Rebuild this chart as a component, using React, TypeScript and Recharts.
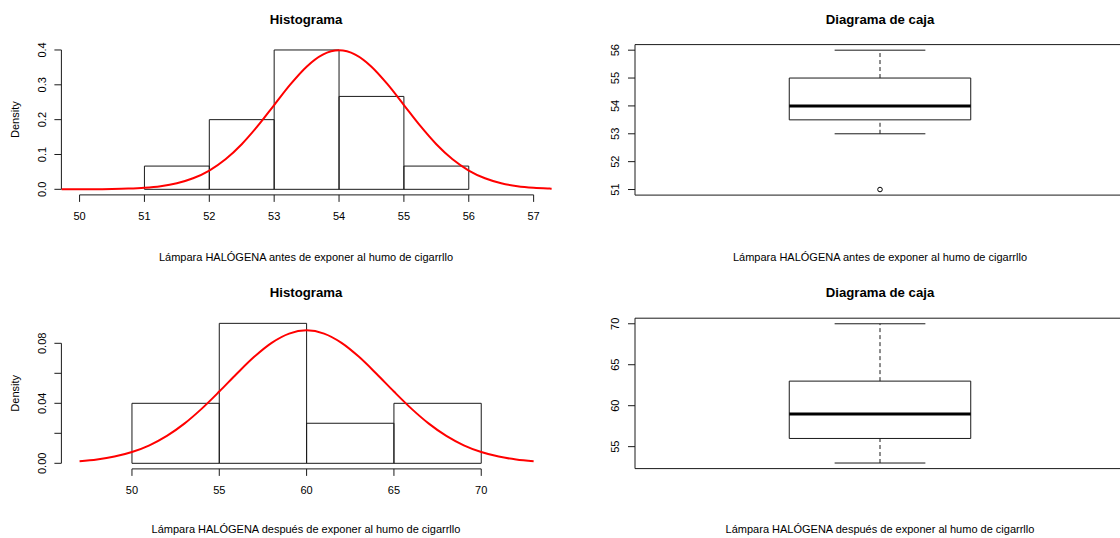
import React from "react";
import {
  ComposedChart,
  XAxis,
  YAxis,
  Line,
  ReferenceArea,
  ReferenceLine,
  Scatter,
} from "recharts";

const FONT = "'Liberation Sans', Arial, Helvetica, sans-serif";

// ---------- Texts ----------
const titleHist = "Histograma";
const titleBox = "Diagrama de caja";
const labelBefore = "Lámpara HALÓGENA antes de exponer al humo de cigarrllo";
const labelAfter = "Lámpara HALÓGENA después de exponer al humo de cigarrllo";
const densityLabel = "Density";

// ---------- Histogram: before ----------
const breaksBefore = [51, 52, 53, 54, 55, 56];
const densityBefore = [0.0667, 0.2, 0.4, 0.2667, 0.0667];
const curveXBefore = [
  49.72, 49.75, 50, 50.25, 50.5, 50.75, 51, 51.25, 51.5, 51.75, 52, 52.25, 52.5,
  52.75, 53, 53.25, 53.5, 53.75, 54, 54.25, 54.5, 54.75, 55, 55.25, 55.5, 55.75,
  56, 56.25, 56.5, 56.75, 57, 57.25, 57.28,
];
const curveYBefore = [
  0.00004, 0.00005, 0.00013, 0.00035, 0.00087, 0.00203, 0.00443, 0.00909,
  0.01753, 0.03174, 0.05399, 0.08628, 0.12952, 0.18265, 0.24197, 0.30114,
  0.35207, 0.38667, 0.39894, 0.38667, 0.35207, 0.30114, 0.24197, 0.18265,
  0.12952, 0.08628, 0.05399, 0.03174, 0.01753, 0.00909, 0.00443, 0.00203,
  0.00180,
];
const xTicksBefore = [50, 51, 52, 53, 54, 55, 56, 57];
const yTicksBefore = [0, 0.1, 0.2, 0.3, 0.4];
const yLabelsBefore = ["0.0", "0.1", "0.2", "0.3", "0.4"];

// ---------- Histogram: after ----------
const breaksAfter = [50, 55, 60, 65, 70];
const densityAfter = [0.04, 0.0933, 0.0267, 0.04];
const curveXAfter = [
  47, 48, 49, 50, 51, 52, 53, 54, 55, 56, 57, 58, 59, 60, 61, 62, 63, 64, 65, 66,
  67, 68, 69, 70, 71, 72, 73,
];
const curveYAfter = [
  0.00137, 0.00253, 0.00447, 0.00751, 0.012, 0.01826, 0.02644, 0.03645, 0.04782,
  0.05972, 0.07099, 0.08032, 0.08649, 0.08865, 0.08649, 0.08032, 0.07099,
  0.05972, 0.04782, 0.03645, 0.02644, 0.01826, 0.012, 0.00751, 0.00447, 0.00253,
  0.00137,
];
const xTicksAfter = [50, 55, 60, 65, 70];
const yTicksAfter = [0, 0.02, 0.04, 0.06, 0.08];
const yLabelsAfter = ["0.00", "", "0.04", "", "0.08"];

// ---------- Box plots: [min, q1, median, q3, max] ----------
const boxStatsBefore = [53, 53.5, 54, 55, 56];
const outliersBefore = [51];
const boxTicksBefore = [51, 52, 53, 54, 55, 56];
const boxStatsAfter = [53, 56, 59, 63, 70];
const outliersAfter: number[] = [];
const boxTicksAfter = [55, 60, 65, 70];

const INK = "#1a1a1a";

const XTick = (props: any) => {
  const { x, y, payload } = props;
  return (
    <text
      x={x}
      y={y + 18}
      textAnchor="middle"
      fontFamily={FONT}
      fontSize={11}
      fill="#000"
    >
      {String(payload.value)}
    </text>
  );
};

const makeYTick = (ticks: number[], labels: string[]) => (props: any) => {
  const { x, y, payload } = props;
  const i = ticks.findIndex((t) => Math.abs(t - payload.value) < 1e-9);
  const s = i >= 0 ? labels[i] : String(payload.value);
  if (!s) return <g />;
  return (
    <text
      transform={`translate(${x - 8.6},${y}) rotate(-90)`}
      textAnchor="middle"
      fontFamily={FONT}
      fontSize={11}
      fill="#000"
    >
      {s}
    </text>
  );
};

type HistProps = {
  left: number;
  top: number;
  breaks: number[];
  density: number[];
  curveX: number[];
  curveY: number[];
  xDomain: [number, number];
  yDomain: [number, number];
  xTicks: number[];
  yTicks: number[];
  yLabels: string[];
  marginTop: number;
  marginBottom: number;
};

function Hist(p: HistProps) {
  const curve = p.curveX.map((x, i) => ({ x, y: p.curveY[i] }));
  const yTick = makeYTick(p.yTicks, p.yLabels);
  const x0 = p.xDomain[0];
  const y0 = p.yDomain[0];
  return (
    <div style={{ position: "absolute", left: p.left, top: p.top }}>
      <ComposedChart
        width={560}
        height={269}
        margin={{ top: p.marginTop, right: 8.2, bottom: p.marginBottom, left: 11.4 }}
      >
        <XAxis
          type="number"
          dataKey="x"
          domain={p.xDomain}
          allowDataOverflow
          ticks={p.xTicks}
          interval={0}
          axisLine={false}
          tickLine={{ stroke: INK, strokeWidth: 1 }}
          tickSize={7}
          tickMargin={0}
          height={30}
          tick={XTick}
        />
        <YAxis
          type="number"
          domain={p.yDomain}
          allowDataOverflow
          ticks={p.yTicks}
          interval={0}
          axisLine={false}
          tickLine={{ stroke: INK, strokeWidth: 1 }}
          tickSize={7}
          tickMargin={0}
          width={50}
          tick={yTick}
        />
        {p.density.map((d, i) => (
          <ReferenceArea
            key={"bar" + i}
            x1={p.breaks[i]}
            x2={p.breaks[i + 1]}
            y1={0}
            y2={d}
            fill="none"
            fillOpacity={0}
            stroke={INK}
            strokeWidth={1}
            strokeOpacity={1}
            ifOverflow="visible"
          />
        ))}
        <ReferenceLine
          segment={[
            { x: p.xTicks[0], y: y0 },
            { x: p.xTicks[p.xTicks.length - 1], y: y0 },
          ]}
          stroke={INK}
          strokeWidth={1}
          ifOverflow="visible"
        />
        <ReferenceLine
          segment={[
            { x: x0, y: p.yTicks[0] },
            { x: x0, y: p.yTicks[p.yTicks.length - 1] },
          ]}
          stroke={INK}
          strokeWidth={1}
          ifOverflow="visible"
        />
        <Line
          data={curve}
          dataKey="y"
          type="monotone"
          stroke="#ff0000"
          strokeWidth={2}
          dot={false}
          activeDot={false}
          isAnimationActive={false}
        />
      </ComposedChart>
    </div>
  );
}

type BoxProps = {
  left: number;
  top: number;
  stats: number[];
  outliers: number[];
  ticks: number[];
  yDomain: [number, number];
  marginTop: number;
  marginBottom: number;
};

function BoxPanel(p: BoxProps) {
  const [mn, q1, med, q3, mx] = p.stats;
  const yTick = makeYTick(p.ticks, p.ticks.map((t) => String(t)));
  const outl = p.outliers.map((v) => ({ x: 1, y: v }));
  return (
    <div style={{ position: "absolute", left: p.left, top: p.top }}>
      <ComposedChart
        width={580}
        height={269}
        margin={{ top: p.marginTop, right: 15, bottom: p.marginBottom, left: 25 }}
      >
        <XAxis type="number" dataKey="x" domain={[0.46, 1.54]} allowDataOverflow hide />
        <YAxis
          type="number"
          domain={p.yDomain}
          allowDataOverflow
          ticks={p.ticks}
          interval={0}
          axisLine={false}
          tickLine={{ stroke: INK, strokeWidth: 1 }}
          tickSize={7}
          tickMargin={0}
          width={50}
          tick={yTick}
        />
        <ReferenceArea
          x1={0.46}
          x2={1.54}
          y1={p.yDomain[0]}
          y2={p.yDomain[1]}
          fill="none"
          fillOpacity={0}
          stroke={INK}
          strokeWidth={1}
          strokeOpacity={1}
          ifOverflow="visible"
        />
        <ReferenceLine
          segment={[{ x: 1, y: q3 }, { x: 1, y: mx }]}
          stroke={INK}
          strokeDasharray="4 3"
          ifOverflow="visible"
        />
        <ReferenceLine
          segment={[{ x: 1, y: mn }, { x: 1, y: q1 }]}
          stroke={INK}
          strokeDasharray="4 3"
          ifOverflow="visible"
        />
        <ReferenceLine
          segment={[{ x: 0.9, y: mx }, { x: 1.1, y: mx }]}
          stroke={INK}
          ifOverflow="visible"
        />
        <ReferenceLine
          segment={[{ x: 0.9, y: mn }, { x: 1.1, y: mn }]}
          stroke={INK}
          ifOverflow="visible"
        />
        <ReferenceArea
          x1={0.8}
          x2={1.2}
          y1={q1}
          y2={q3}
          fill="none"
          fillOpacity={0}
          stroke={INK}
          strokeWidth={1}
          strokeOpacity={1}
          ifOverflow="visible"
        />
        <ReferenceLine
          segment={[{ x: 0.8, y: med }, { x: 1.2, y: med }]}
          stroke="#000"
          strokeWidth={3}
          ifOverflow="visible"
        />
        <Scatter
          data={outl}
          dataKey="y"
          isAnimationActive={false}
          shape={(s: any) => (
            <circle cx={s.cx} cy={s.cy} r={2.3} fill="none" stroke="#000" strokeWidth={1} />
          )}
        />
      </ComposedChart>
    </div>
  );
}

export default function App() {
  const txt = { fontFamily: FONT, fill: "#000" } as const;
  return (
    <div
      style={{
        position: "relative",
        width: 1120,
        height: 538,
        overflow: "hidden",
        background: "#fff",
      }}
    >
      <style>{"body{margin:0;overflow:hidden;background:#fff}"}</style>
      <Hist
        left={0}
        top={0}
        breaks={breaksBefore}
        density={densityBefore}
        curveX={curveXBefore}
        curveY={curveYBefore}
        xDomain={[49.72, 57.28]}
        yDomain={[-0.016, 0.416]}
        xTicks={xTicksBefore}
        yTicks={yTicksBefore}
        yLabels={yLabelsBefore}
        marginTop={44.4}
        marginBottom={44.1}
      />
      <Hist
        left={0}
        top={269}
        breaks={breaksAfter}
        density={densityAfter}
        curveX={curveXAfter}
        curveY={curveYAfter}
        xDomain={[45.96, 74.04]}
        yDomain={[-0.00373, 0.09707]}
        xTicks={xTicksAfter}
        yTicks={yTicksAfter}
        yLabels={yLabelsAfter}
        marginTop={48.7}
        marginBottom={39.1}
      />
      <BoxPanel
        left={560}
        top={0}
        stats={boxStatsBefore}
        outliers={outliersBefore}
        ticks={boxTicksBefore}
        yDomain={[50.8, 56.2]}
        marginTop={44.6}
        marginBottom={73.9}
      />
      <BoxPanel
        left={560}
        top={269}
        stats={boxStatsAfter}
        outliers={outliersAfter}
        ticks={boxTicksAfter}
        yDomain={[52.32, 70.68]}
        marginTop={49.2}
        marginBottom={69.4}
      />
      <svg
        width={1120}
        height={538}
        style={{ position: "absolute", left: 0, top: 0, pointerEvents: "none" }}
      >
        <text x={306} y={23.6} textAnchor="middle" fontWeight="bold" fontSize={13.2} {...txt}>
          {titleHist}
        </text>
        <text x={880} y={23.6} textAnchor="middle" fontWeight="bold" fontSize={13.2} {...txt}>
          {titleBox}
        </text>
        <text x={306} y={296.6} textAnchor="middle" fontWeight="bold" fontSize={13.2} {...txt}>
          {titleHist}
        </text>
        <text x={880} y={296.6} textAnchor="middle" fontWeight="bold" fontSize={13.2} {...txt}>
          {titleBox}
        </text>
        <text x={306} y={261} textAnchor="middle" fontSize={11} {...txt}>
          {labelBefore}
        </text>
        <text x={880} y={260.7} textAnchor="middle" fontSize={11} {...txt}>
          {labelBefore}
        </text>
        <text x={306} y={533.3} textAnchor="middle" fontSize={11} {...txt}>
          {labelAfter}
        </text>
        <text x={880} y={533.3} textAnchor="middle" fontSize={11} {...txt}>
          {labelAfter}
        </text>
        <text transform="translate(19,119.6) rotate(-90)" textAnchor="middle" fontSize={11} {...txt}>
          {densityLabel}
        </text>
        <text transform="translate(19,393.3) rotate(-90)" textAnchor="middle" fontSize={11} {...txt}>
          {densityLabel}
        </text>
      </svg>
    </div>
  );
}
